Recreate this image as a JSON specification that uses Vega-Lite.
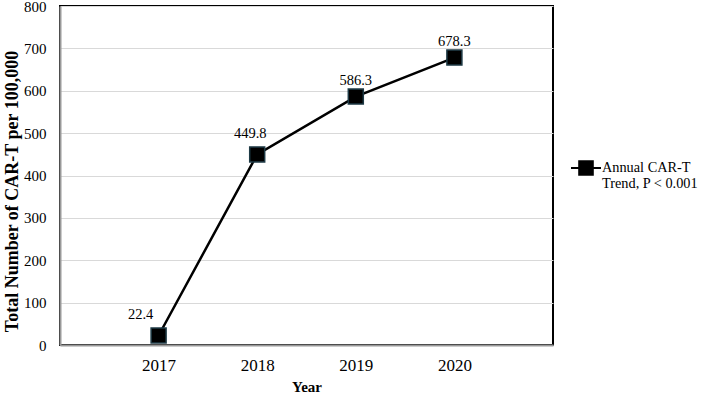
{
  "$schema": "https://vega.github.io/schema/vega-lite/v6.json",
  "autosize": "none",
  "width": 493,
  "height": 339,
  "padding": {"left": 60, "top": 6, "right": 155, "bottom": 48},
  "background": "white",
  "config": {
    "font": "Liberation Serif",
    "view": {"stroke": "black", "strokeWidth": 2},
    "axis": {
      "labelFont": "Liberation Serif",
      "titleFont": "Liberation Serif",
      "labelColor": "black",
      "titleColor": "black",
      "titleFontWeight": "bold",
      "domainColor": "#999999",
      "domainWidth": 2,
      "ticks": false,
      "gridColor": "#d9d9d9",
      "gridWidth": 1
    }
  },
  "data": {
    "values": [
      {"Year": "2017", "Value": 22.4, "Series": "Annual CAR-T Trend, P < 0.001"},
      {"Year": "2018", "Value": 449.8, "Series": "Annual CAR-T Trend, P < 0.001"},
      {"Year": "2019", "Value": 586.3, "Series": "Annual CAR-T Trend, P < 0.001"},
      {"Year": "2020", "Value": 678.3, "Series": "Annual CAR-T Trend, P < 0.001"}
    ]
  },
  "encoding": {
    "x": {
      "field": "Year", "type": "ordinal",
      "scale": {"type": "point", "padding": 1},
      "axis": {"labelAngle": 0, "labelFontSize": 17, "labelPadding": 12, "title": "Year", "titleFontSize": 15, "titlePadding": 6, "grid": false}
    },
    "y": {
      "field": "Value", "type": "quantitative",
      "scale": {"domain": [0, 800]},
      "axis": {"values": [0,100,200,300,400,500,600,700,800], "labelFontSize": 15, "labelPadding": 14, "title": "Total Number of CAR-T per 100,000", "titleFontSize": 18, "titleX": -48, "titleY": 185, "titleAngle": -90, "titleAlign": "center", "titleBaseline": "middle", "grid": true}
    }
  },
  "layer": [
    {
      "mark": {"type": "line", "color": "black", "strokeWidth": 2.5},
      "encoding": {}
    },
    {
      "mark": {"type": "point", "shape": "square", "filled": true, "size": 225, "fill": "black", "stroke": "#1e3a45", "strokeWidth": 1.5, "opacity": 1},
      "encoding": {
        "color": {
          "field": "Series", "type": "nominal",
          "scale": {"range": ["black"]},
          "legend": {
            "title": null,
            "orient": "none",
            "legendX": 515,
            "legendY": 151,
            "symbolType": "M-1.5,0H1.5M-0.68,-0.68H0.68V0.68H-0.68Z",
            "symbolSize": 400,
            "symbolStrokeWidth": 2,
            "symbolFillColor": "black",
            "symbolStrokeColor": "black",
            "labelFont": "Liberation Serif",
            "labelFontSize": 14.3,
            "labelColor": "black",
            "labelLimit": 200,
            "labelOffset": 5,
            "labelExpr": "['Annual CAR-T', 'Trend, P < 0.001']",
            "encode": {"labels": {"update": {"lineHeight": {"value": 18}}}}
          }
        }
      }
    },
    {
      "transform": [{"filter": "datum.Year == '2019' || datum.Year == '2020'"}],
      "mark": {"type": "text", "dy": -16, "fontSize": 14.5, "font": "Liberation Serif", "color": "black"},
      "encoding": {"text": {"field": "Value", "type": "quantitative", "format": ".1f"}}
    },
    {
      "transform": [{"filter": "datum.Year == '2018'"}],
      "mark": {"type": "text", "dy": -20, "dx": -7, "fontSize": 14.5, "font": "Liberation Serif", "color": "black"},
      "encoding": {"text": {"field": "Value", "type": "quantitative", "format": ".1f"}}
    },
    {
      "transform": [{"filter": "datum.Year == '2017'"}],
      "mark": {"type": "text", "dy": -21, "dx": -18, "fontSize": 14.5, "font": "Liberation Serif", "color": "black"},
      "encoding": {"text": {"field": "Value", "type": "quantitative", "format": ".1f"}}
    }
  ]
}
